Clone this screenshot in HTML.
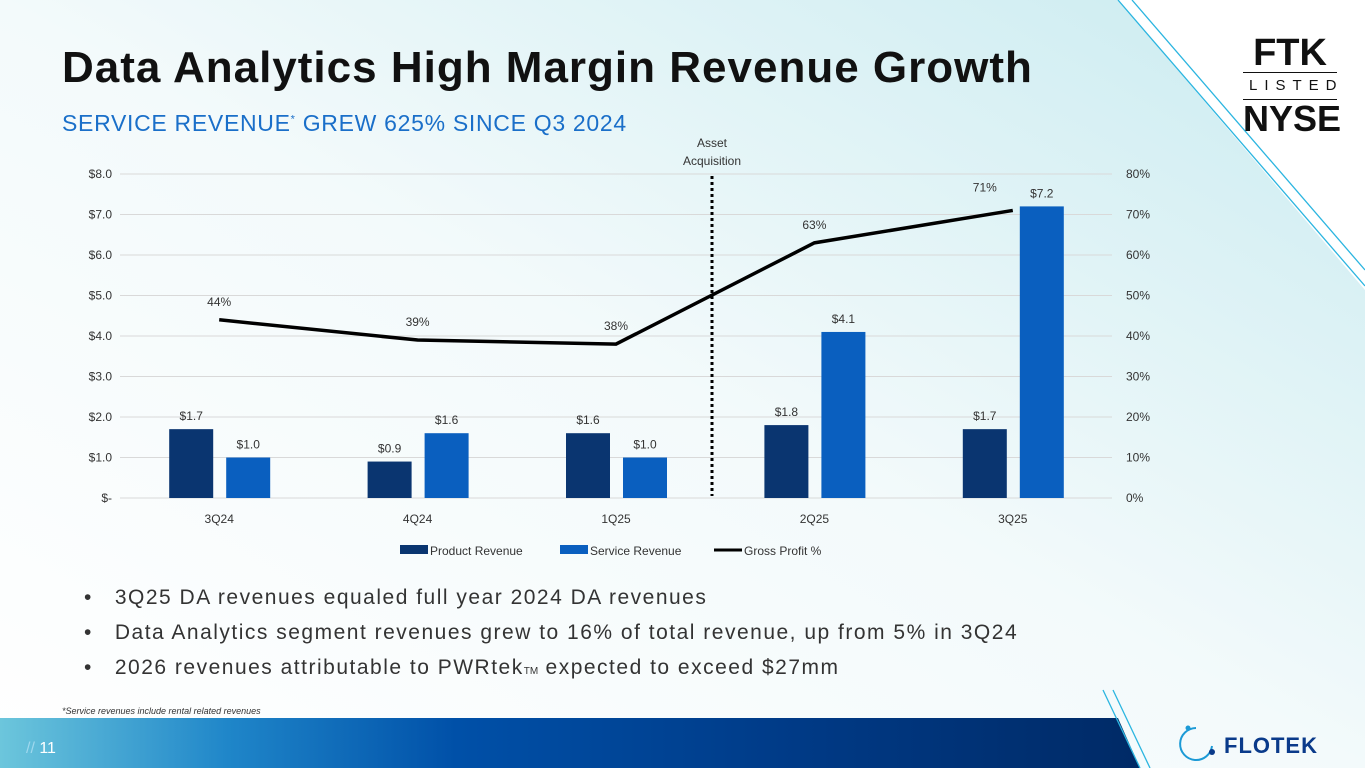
<!DOCTYPE html>
<html><head><meta charset="utf-8">
<style>
html,body{margin:0;padding:0;width:1365px;height:768px;overflow:hidden;background:#fff;font-family:"Liberation Sans",sans-serif;}
#root{position:relative;width:1365px;height:768px;}
.abs{position:absolute;}
</style></head>
<body><div id="root">
<svg class="abs" style="left:0;top:0" width="1365" height="768">
<defs>
<linearGradient id="bg" x1="0" y1="1" x2="1" y2="0">
<stop offset="0" stop-color="#ffffff"/><stop offset="0.5" stop-color="#f3fafb"/><stop offset="1" stop-color="#c9ebf0"/>
</linearGradient>
<linearGradient id="bar" x1="0" y1="0" x2="1" y2="0">
<stop offset="0" stop-color="#6cc6dc"/><stop offset="0.2" stop-color="#1f86c9"/><stop offset="0.4" stop-color="#0050a8"/><stop offset="0.7" stop-color="#003a86"/><stop offset="1" stop-color="#002a66"/>
</linearGradient>
</defs>
<rect width="1365" height="768" fill="url(#bg)"/>
<polygon points="1118,0 1365,0 1365,290" fill="#ffffff"/>
<line x1="1118" y1="0" x2="1365" y2="286" stroke="#2bb5e0" stroke-width="1.3"/>
<line x1="1132" y1="0" x2="1365" y2="270" stroke="#2bb5e0" stroke-width="1.3"/>
<polygon points="0,718 1118,718 1140,768 0,768" fill="url(#bar)"/>
<line x1="1103" y1="690" x2="1140" y2="768" stroke="#2bb5e0" stroke-width="1.3"/>
<line x1="1113" y1="690" x2="1150" y2="768" stroke="#2bb5e0" stroke-width="1.3"/>
</svg>
<div class="abs" style="left:62px;top:43px;font-size:44px;letter-spacing:1px;font-weight:bold;color:#111;white-space:nowrap">Data Analytics High Margin Revenue Growth</div>
<div class="abs" style="left:62px;top:110px;font-size:23px;letter-spacing:0.7px;color:#1a6fc9;white-space:nowrap">SERVICE REVENUE<sup style="font-size:11px">*</sup> GREW 625% SINCE Q3 2024</div>
<div class="abs" style="left:1243px;top:34px;width:94px;text-align:center;color:#111">
<div style="font-size:38px;font-weight:bold;line-height:38px;">FTK</div>
<div style="border-top:1.5px solid #111;border-bottom:1.5px solid #111;font-size:15px;letter-spacing:7px;line-height:26px;padding-left:6px">LISTED</div>
<div style="font-size:36px;font-weight:bold;line-height:38px;">NYSE</div>
</div>
<svg class="abs" id="chart" style="left:0;top:0" width="1365" height="580"></svg>
<div class="abs" style="left:84px;top:580px;font-size:21px;letter-spacing:1.5px;color:#333;line-height:35px;white-space:nowrap">
<div>•&nbsp;&nbsp;&nbsp;3Q25 DA revenues equaled full year 2024 DA revenues</div>
<div>•&nbsp;&nbsp;&nbsp;Data Analytics segment revenues grew to 16% of total revenue, up from 5% in 3Q24</div>
<div>•&nbsp;&nbsp;&nbsp;2026 revenues attributable to PWRtek<span style="font-size:10px;letter-spacing:0">TM</span> expected to exceed $27mm</div>
</div>
<div class="abs" style="left:62px;top:706px;font-size:9px;font-style:italic;color:#333">*Service revenues include rental related revenues</div>
<div class="abs" style="left:26px;top:740px;font-size:16px;color:#fff"><span style="color:#9fd8ee">//</span> 11</div>
<div class="abs" style="left:1176px;top:724px;">
<svg width="180" height="40"><path d="M20 4 A16 16 0 1 0 36 22" fill="none" stroke="#1c9ad6" stroke-width="2"/><circle cx="12" cy="4" r="2.5" fill="#1c9ad6"/><circle cx="36" cy="28" r="3" fill="#0a3a8a"/>
<text x="48" y="29" font-size="22" font-weight="bold" fill="#0a3a8a" font-family="Liberation Sans, sans-serif" letter-spacing="1">FLOTEK</text></svg>
</div>
</div>
<script>
const categories=["3Q24","4Q24","1Q25","2Q25","3Q25"];
const productRevenue=[1.7,0.9,1.6,1.8,1.7];
const serviceRevenue=[1.0,1.6,1.0,4.1,7.2];
const grossProfit=[44,39,38,63,71];
const leftTicks=["$-","$1.0","$2.0","$3.0","$4.0","$5.0","$6.0","$7.0","$8.0"];
const rightTicks=["0%","10%","20%","30%","40%","50%","60%","70%","80%"];
const svg=document.getElementById('chart');const NS="http://www.w3.org/2000/svg";
const X0=120,X1=1112,Y0=498,Y1=174;
const yL=v=>Y0-(v/8)*(Y0-Y1);
const yR=v=>Y0-(v/80)*(Y0-Y1);
const step=(X1-X0)/categories.length;
const xc=i=>X0+step*(i+0.5);
function mk(t,a,txt){const e=document.createElementNS(NS,t);for(const k in a)e.setAttribute(k,a[k]);if(txt!=null)e.textContent=txt;svg.appendChild(e);return e;}
const F='font-family:"Liberation Sans",sans-serif;font-size:12px;fill:#333';
leftTicks.forEach((t,i)=>{const y=yL(i);
const g=mk('line',{x1:X0,x2:X1,y1:y,y2:y,stroke:'#d9d9d9','stroke-width':1});

const l=mk('text',{x:112,y:y+4,'text-anchor':'end',style:F},t);
});
rightTicks.forEach((t,i)=>{const l=mk('text',{x:1126,y:yR(i*10)+4,style:F},t);
});
categories.forEach((c,i)=>{
const px=xc(i)-50,sx=xc(i)+7,w=44;
const b1=mk('rect',{x:px,y:yL(productRevenue[i]),width:w,height:Y0-yL(productRevenue[i]),fill:'#0a3570'});

const b2=mk('rect',{x:sx,y:yL(serviceRevenue[i]),width:w,height:Y0-yL(serviceRevenue[i]),fill:'#0a5fbf'});

const t1=mk('text',{x:px+w/2,y:yL(productRevenue[i])-9,'text-anchor':'middle',style:F},'$'+productRevenue[i].toFixed(1));

const t2=mk('text',{x:sx+w/2,y:yL(serviceRevenue[i])-9,'text-anchor':'middle',style:F},'$'+serviceRevenue[i].toFixed(1));

const cl=mk('text',{x:xc(i),y:523,'text-anchor':'middle',style:F},c);
});
const line=mk('polyline',{points:grossProfit.map((v,i)=>xc(i)+','+yR(v)).join(' '),fill:'none',stroke:'#000','stroke-width':3.5});

grossProfit.forEach((v,i)=>{let x=xc(i),y=yR(v)-14,anc='middle';
if(i===categories.length-1){x=xc(i)-28;y=yR(v)-19;}
const t=mk('text',{x:x,y:y,'text-anchor':anc,style:F},v+'%');
});
const dv=mk('line',{x1:712,x2:712,y1:176,y2:496,stroke:'#000','stroke-width':3,'stroke-dasharray':'3,3'});

const a1=mk('text',{x:712,y:147,'text-anchor':'middle',style:F},'Asset');

const a2=mk('text',{x:712,y:165,'text-anchor':'middle',style:F},'Acquisition');

const legend=[["Product Revenue","#0a3570","rect",400],["Service Revenue","#0a5fbf","rect",560],["Gross Profit %","#000","line",714]];
legend.forEach(([n,c,k,x])=>{
if(k==='rect'){const r=mk('rect',{x:x,y:545,width:28,height:9,fill:c});}
else{const l=mk('line',{x1:x,x2:x+28,y1:550,y2:550,stroke:c,'stroke-width':3});}
const t=mk('text',{x:x+30,y:555,style:F},n);});
</script>
</body></html>
